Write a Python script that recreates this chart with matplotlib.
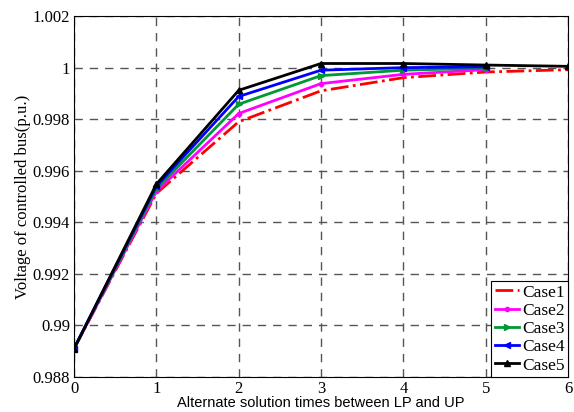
import matplotlib
matplotlib.use("Agg")
from matplotlib import pyplot as plt

x_full = [0, 1, 2, 3, 4, 5, 6]
x_short = [0, 1, 2, 3, 4, 5]
case1 = [0.98910, 0.99512, 0.99790, 0.99910, 0.99961, 0.99983, 0.99992]
case2 = [0.98910, 0.99520, 0.99822, 0.99938, 0.99974, 0.99992]
case3 = [0.98910, 0.99530, 0.99858, 0.99969, 0.99990, 0.99998]
case4 = [0.98910, 0.99540, 0.99888, 0.99990, 1.00000, 1.00003]
case5 = [0.98910, 0.99548, 0.99912, 1.00016, 1.00016, 1.00010, 1.00005]

serif = "Liberation Serif"

fig = plt.figure(figsize=(5.74, 4.12), dpi=100)
ax = fig.add_axes([0.129, 0.085, 0.8605, 0.876])

ax.plot(x_full, case1, color="red", linestyle="-.", linewidth=2, label="Case1")
ax.plot(x_short, case2, color="magenta", marker="o", markersize=3, linewidth=2, label="Case2")
ax.plot(x_short, case3, color="#009933", marker=">", markersize=5, linewidth=2, label="Case3")
ax.plot(x_short, case4, color="blue", marker="<", markersize=5, linewidth=2, label="Case4")
ax.plot(x_full, case5, color="black", marker="^", markersize=5, linewidth=2, label="Case5")

ax.set_xlim(0, 6)
ax.set_ylim(0.988, 1.002)
ax.set_xticks(range(0, 7))
ax.set_yticks([0.988, 0.99, 0.992, 0.994, 0.996, 0.998, 1.0, 1.002])
ax.set_yticklabels(["0.988", "0.99", "0.992", "0.994", "0.996", "0.998", "1", "1.002"])
ax.tick_params(direction="in", length=0, labelsize=12, pad=3)
for lbl in ax.get_xticklabels() + ax.get_yticklabels():
    lbl.set_fontfamily(serif)
ax.grid(True, color="#555555", linestyle=(0, (6, 5)), linewidth=1)

ax.set_xlabel("Alternate solution times between LP and UP", fontsize=10.5,
              family="Liberation Sans", labelpad=-1)
ax.set_ylabel("Voltage of controlled bus(p.u.)", fontsize=12, family=serif, labelpad=1)

leg = ax.legend(loc="lower right", prop={"family": serif, "size": 12.5},
                fancybox=False, framealpha=1, edgecolor="black",
                handlelength=1.4, handletextpad=0.15, labelspacing=0.12,
                borderpad=0.2, borderaxespad=0.0)
leg.get_frame().set_linewidth(0.8)

plt.savefig("out.png", dpi=100)
plt.close()
